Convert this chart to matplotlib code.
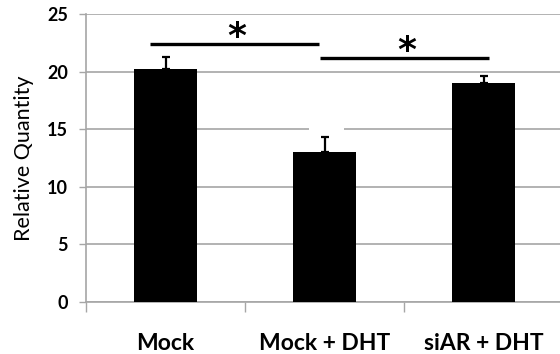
import matplotlib
matplotlib.use("Agg")
import matplotlib.pyplot as plt
from matplotlib.patches import Rectangle

categories = ["Mock", "Mock + DHT", "siAR + DHT"]
values = [20.2, 13.0, 19.0]
errors = [1.1, 1.3, 0.6]
yticks = [0, 5, 10, 15, 20, 25]

# significance brackets: (start category, end category, height)
sig_pairs = [(0, 1, 22.4), (1, 2, 21.2)]

FONT = "Lato"

fig = plt.figure(figsize=(5.6, 3.54), dpi=100)
ax = fig.add_axes([86 / 560, 52 / 354, 477 / 560, 288 / 354])

x = list(range(len(categories)))
ax.bar(x, values, width=0.4, color="black", zorder=3)
ax.errorbar(x, values, yerr=[[0] * len(errors), errors], fmt="none",
            ecolor="black", elinewidth=1.6, capsize=2.6, capthick=1.6, zorder=4)

# blank label box sitting over the gridline next to the middle error bar
ax.add_patch(Rectangle((0.9, 14.6), 0.225, 0.8, facecolor="white",
                       edgecolor="none", zorder=1))

ax.set_xlim(-0.5, 2.5)
ax.set_ylim(0, 25)
ax.set_yticks(yticks)
ax.set_yticklabels([str(t) for t in yticks], fontsize=13, fontweight="bold",
                   family=FONT)
ax.yaxis.grid(True, color="#a6a6a6", linewidth=1.2, zorder=0)
ax.set_axisbelow(True)

ax.set_xticks([-0.5, 0.5, 1.5, 2.5])
ax.set_xticklabels([])
ax.set_xticks(x, minor=True)
ax.set_xticklabels(categories, minor=True, fontsize=16.5, fontweight="bold",
                   family=FONT)
ax.tick_params(axis="x", which="minor", length=0, pad=22)
ax.tick_params(axis="x", which="major", length=7, color="#a6a6a6", width=1)
ax.tick_params(axis="y", length=5, color="#a6a6a6", width=1, pad=8)

for side in ["top", "right"]:
    ax.spines[side].set_visible(False)
for side in ["left", "bottom"]:
    ax.spines[side].set_color("#a6a6a6")
    ax.spines[side].set_linewidth(1.2)

ax.set_ylabel("Relative Quantity", fontsize=15.5, family=FONT, labelpad=9)

offsets = [(-0.1, -0.035, -0.05), (-0.03, 0.035, 0.02)]
for (a, b, h), (o0, o1, om) in zip(sig_pairs, offsets):
    ax.plot([a + o0, b + o1], [h, h], color="black", linewidth=2.4,
            solid_capstyle="butt", zorder=5, clip_on=False)
    ax.text((a + b) / 2 + om, h - 0.85, "*", ha="center", va="bottom",
            fontsize=26, fontweight="bold", family="DejaVu Sans")

fig.savefig("out.png", dpi=100)
